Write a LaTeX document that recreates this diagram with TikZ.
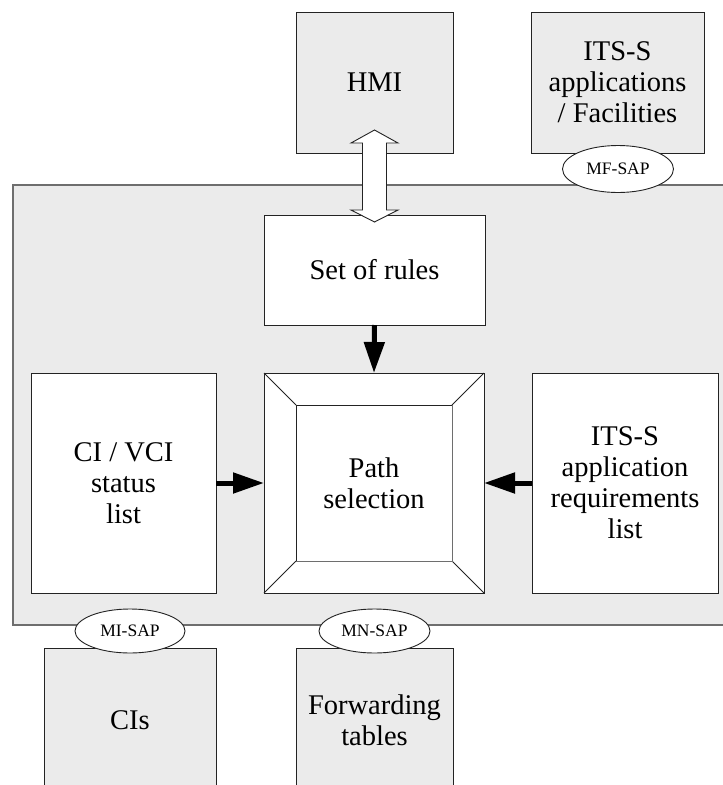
\documentclass[tikz,border=0pt]{standalone}
\usepackage{fontspec}
\setmainfont{Liberation Serif}
\usetikzlibrary{arrows.meta,calc,shapes.geometric}
\definecolor{boxgray}{RGB}{235,235,235}
\definecolor{edge}{RGB}{35,35,35}
\definecolor{softedge}{RGB}{110,110,110}
\begin{document}
\begin{tikzpicture}[x=1pt,y=-1pt,
  box/.style={draw=edge,line width=0.9pt,rectangle,inner sep=0pt,outer sep=0pt,align=center,font=\fontsize{28.5}{31}\selectfont},
  graybox/.style={box,fill=boxgray},
  whitebox/.style={box,fill=white},
  sap/.style={draw=edge,line width=0.9pt,ellipse,fill=white,inner sep=0pt,outer sep=0pt,font=\fontsize{17.5}{18}\selectfont},
  flow/.style={draw=black,line width=5pt,-{Triangle[length=31pt,width=20pt]}},
  hollow/.style={draw=edge,line width=0.9pt,fill=white,line join=miter}]
\useasboundingbox (0,0) rectangle (723,785);
\clip (0,0) rectangle (723,785);
\fill[white] (0,0) rectangle (723,785);
% main module
\node[graybox,draw=softedge,line width=1.2pt,minimum width=722,minimum height=440] (main) at (374,405) {};
% outer boxes
\node[graybox,minimum width=157,minimum height=141] (hmi) at (374.5,82.5) {HMI};
\node[graybox,minimum width=173,minimum height=141] (its) at (617.5,82.5) {ITS-S\\applications\\/ Facilities};
\node[graybox,minimum width=172,minimum height=144] (cis) at (130,720) {CIs};
\node[graybox,minimum width=157,minimum height=144] (fwd) at (374.5,720) {Forwarding\\tables};
% inner boxes
\node[whitebox,minimum width=221,minimum height=110] (rules) at (374.5,270) {Set of rules};
\node[whitebox,minimum width=185,minimum height=220] (ci) at (123.5,483) {CI / VCI\\status\\list};
\node[whitebox,minimum width=186,minimum height=220] (req) at (625,483) {ITS-S\\application\\requirements\\list};
% path selection (bevelled)
\node[whitebox,minimum width=220,minimum height=220] (path) at (374,483) {};
\node[box,draw=none,minimum width=156,minimum height=156] (inner) at (374,483) {Path\\selection};
\draw[edge,line width=0.9pt] (path.north west) -- (inner.north west)
  (path.north east) -- (inner.north east)
  (path.south west) -- (inner.south west)
  (path.south east) -- (inner.south east);
\draw[edge,line width=0.9pt] (inner.south west) -- (inner.north west) -- (inner.north east);
\draw[softedge,line width=0.9pt] (inner.north east) -- (inner.south east) -- (inner.south west);
% flows
\draw[flow] (rules.south) -- (path.north);
\draw[flow] (ci.east) -- (path.west);
\draw[flow] (req.west) -- (path.east);
% hollow double arrow HMI <-> Set of rules
\coordinate (dt) at ($(hmi.south)+(0,-23)$);
\coordinate (db) at ($(rules.north)+(0,7)$);
\draw[hollow] (dt) -- ++(23.5,13) -- ++(-11.5,0) -- ($(db)+(12,-12)$) -- ++(11.5,0) -- (db)
  -- ++(-23.5,-12) -- ++(11.5,0) -- ($(dt)+(-12,13)$) -- ++(-11.5,0) -- cycle;
% service access points
\node[sap,minimum width=111,minimum height=47] (mfsap) at (618,169) {MF-SAP};
\node[sap,minimum width=110,minimum height=44] (misap) at (130,631) {MI-SAP};
\node[sap,minimum width=111,minimum height=44] (mnsap) at (374.5,631) {MN-SAP};
\end{tikzpicture}
\end{document}
